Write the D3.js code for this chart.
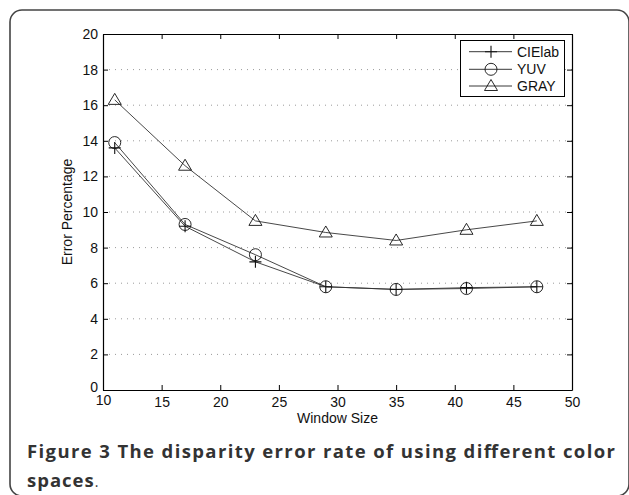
<!DOCTYPE html>
<html>
<head>
<meta charset="utf-8">
<script src="https://cdn.jsdelivr.net/npm/d3@7"></script>
<style>
  html, body { margin: 0; padding: 0; background: #fff; }
  svg { display: block; }
  .tick text { font-family: "Liberation Sans", Arial, Helvetica, sans-serif; font-size: 14px; fill: #111; }
</style>
</head>
<body>
<svg id="chart" width="629" height="495"></svg>
<script>
const windowSizes = [11, 17, 23, 29, 35, 41, 47];
const cielab = [13.6, 9.2, 7.2, 5.8, 5.65, 5.75, 5.8];
const yuv = [13.9, 9.3, 7.6, 5.8, 5.65, 5.7, 5.8];
const gray = [16.3, 12.6, 9.5, 8.85, 8.4, 9.0, 9.5];
const seriesNames = ["CIElab", "YUV", "GRAY"];
const seriesMarkers = ["plus", "circle", "triangle"];
const xTicks = [10, 15, 20, 25, 30, 35, 40, 45, 50];
const yTicks = [0, 2, 4, 6, 8, 10, 12, 14, 16, 18, 20];
const gridValues = [2, 4, 6, 8, 10, 12, 14, 16, 18];
const xLabel = "Window Size";
const yLabel = "Error Percentage";
const captionBold1 = "Figure 3 The disparity error rate of using different color";
const captionBold2 = "spaces";
const captionEnd = ".";

const svg = d3.select("#chart");
const font = '"Liberation Sans", Arial, Helvetica, sans-serif';

// outer frame
svg.append("rect")
  .attr("x", 10).attr("y", 10).attr("width", 619).attr("height", 486)
  .attr("rx", 12).attr("ry", 12)
  .attr("fill", "none").attr("stroke", "#444").attr("stroke-width", 1.6);

const L = 103, R = 572, T = 34, B = 390;
const x = d3.scaleLinear().domain([10, 50]).range([L, R]);
const y = d3.scaleLinear().domain([0, 20]).range([B, T]);

// gridlines
svg.append("g").selectAll("line").data(gridValues).join("line")
  .attr("x1", L).attr("x2", R)
  .attr("y1", d => y(d)).attr("y2", d => y(d))
  .attr("stroke", "#9a9a9a").attr("stroke-width", 1)
  .attr("stroke-dasharray", "1,5");

// axes
const gx = svg.append("g").attr("transform", `translate(0,${B})`)
  .call(d3.axisBottom(x).tickValues(xTicks).tickSizeInner(-5).tickSizeOuter(0).tickPadding(7));
const gxt = svg.append("g").attr("transform", `translate(0,${T})`)
  .call(d3.axisTop(x).tickValues(xTicks).tickSizeInner(-5).tickSizeOuter(0).tickFormat(""));
const gy = svg.append("g").attr("transform", `translate(${L},0)`)
  .call(d3.axisLeft(y).tickValues(yTicks).tickSizeInner(-5).tickSizeOuter(0).tickPadding(5));
const gyr = svg.append("g").attr("transform", `translate(${R},0)`)
  .call(d3.axisRight(y).tickValues(yTicks).tickSizeInner(-5).tickSizeOuter(0).tickFormat(""));
[gx, gxt, gy, gyr].forEach(g => {
  g.selectAll(".domain").attr("stroke", "#000").attr("stroke-width", 1.2);
  g.selectAll(".tick line").attr("stroke", "#000");
});
gx.selectAll(".tick").filter(d => d === 10).select("text").attr("dy", "0.55em");
gy.selectAll(".tick").filter(d => d === 0).select("text").attr("dy", "0.1em");

// axis labels
svg.append("text").attr("x", (L + R) / 2).attr("y", 423)
  .attr("text-anchor", "middle").attr("font-family", font).attr("font-size", 14).attr("fill", "#111")
  .text(xLabel);
svg.append("text").attr("transform", `translate(72,${(T + B) / 2}) rotate(-90)`)
  .attr("text-anchor", "middle").attr("font-family", font).attr("font-size", 14).attr("fill", "#111")
  .text(yLabel);

// marker drawing
function drawMarker(g, type) {
  const stroke = "#111";
  if (type === "plus") {
    g.append("path").attr("d", "M-6,0H6M0,-6V6").attr("stroke", stroke).attr("stroke-width", 1.1).attr("fill", "none");
  } else if (type === "circle") {
    g.append("circle").attr("r", 6).attr("stroke", stroke).attr("stroke-width", 0.9).attr("fill", "none");
  } else {
    g.append("path").attr("d", "M0,-6.5L6.5,4.5L-6.5,4.5Z").attr("stroke", stroke).attr("stroke-width", 0.9).attr("fill", "none");
  }
}

const seriesData = [cielab, yuv, gray];
const line = d3.line().x(d => x(d[0])).y(d => y(d[1]));
seriesData.forEach((vals, i) => {
  const pts = windowSizes.map((w, j) => [w, vals[j]]);
  svg.append("path").datum(pts).attr("d", line)
    .attr("fill", "none").attr("stroke", "#333").attr("stroke-width", 0.9);
});
seriesData.forEach((vals, i) => {
  windowSizes.forEach((w, j) => {
    const g = svg.append("g").attr("transform", `translate(${x(w)},${y(vals[j])})`);
    drawMarker(g, seriesMarkers[i]);
  });
});

// legend
const lg = svg.append("g");
lg.append("rect").attr("x", 460.5).attr("y", 40.5).attr("width", 104).attr("height", 56)
  .attr("fill", "#fff").attr("stroke", "#000").attr("stroke-width", 1);
const legendY = [51.7, 69.3, 86];
seriesNames.forEach((name, i) => {
  lg.append("line").attr("x1", 469).attr("x2", 512).attr("y1", legendY[i]).attr("y2", legendY[i])
    .attr("stroke", "#222").attr("stroke-width", 0.9);
  const mg = lg.append("g").attr("transform", `translate(491,${legendY[i]})`);
  drawMarker(mg, seriesMarkers[i]);
  lg.append("text").attr("x", 517).attr("y", legendY[i]).attr("dy", "0.36em")
    .attr("font-family", font).attr("font-size", 14).attr("fill", "#111").text(name);
});

// caption
const capFont = '"Open Sans", "Noto Sans", sans-serif';
svg.append("text").attr("x", 27).attr("y", 458)
  .attr("font-family", capFont).attr("font-weight", "bold").attr("font-size", 18.5).attr("fill", "#333")
  .attr("textLength", 588).attr("lengthAdjust", "spacing")
  .text(captionBold1);
const c2 = svg.append("text").attr("x", 27).attr("y", 487)
  .attr("font-family", capFont).attr("font-size", 18.5).attr("fill", "#333");
c2.append("tspan").attr("font-weight", "bold").attr("letter-spacing", 1).text(captionBold2);
c2.append("tspan").attr("font-size", 14).text(captionEnd);
</script>
</body>
</html>
